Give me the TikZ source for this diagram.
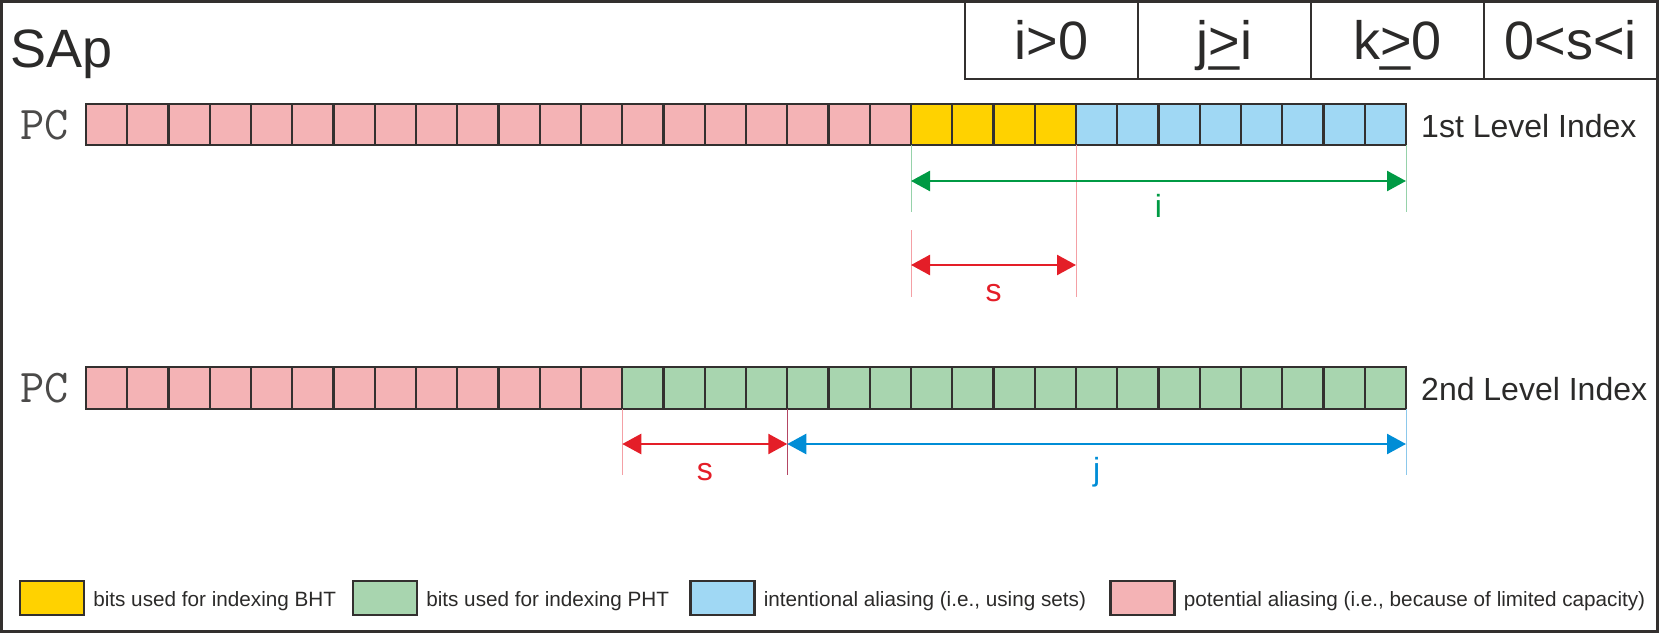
\documentclass[tikz,border=0pt]{standalone}
\usepackage{fontspec}
\setmainfont{Liberation Sans}
\usetikzlibrary{arrows.meta,positioning,calc}

\definecolor{pinkbit}{RGB}{244,179,181}
\definecolor{yellowbit}{RGB}{255,210,0}
\definecolor{bluebit}{RGB}{160,216,244}
\definecolor{greenbit}{RGB}{168,213,175}
\definecolor{linecol}{RGB}{51,48,47}
\definecolor{textcol}{RGB}{43,42,41}
\definecolor{dimgreen}{RGB}{0,154,68}
\definecolor{dimred}{RGB}{228,30,40}
\definecolor{dimblue}{RGB}{0,141,214}
\definecolor{extgreen}{RGB}{150,210,170}
\definecolor{extred}{RGB}{244,160,165}
\definecolor{extdark}{RGB}{180,70,100}
\definecolor{extblue}{RGB}{140,200,235}

\begin{document}
\begin{tikzpicture}[
    x=1pt, y=-1pt,
    bit/.style={draw=linecol, line width=2.2pt, minimum width=41.25pt,
        minimum height=41.5pt, inner sep=0pt, outer sep=0pt},
    hdr/.style={draw=linecol, line width=2pt, minimum width=173pt,
        minimum height=78pt, inner sep=0pt, text height=39pt, text depth=0pt,
        font=\fontsize{54}{60}\selectfont, text=textcol},
    legbox/.style={draw=linecol, line width=2.2pt, minimum width=64pt,
        minimum height=34pt, inner sep=0pt},
    legtxt/.style={font=\fontsize{20.7}{24}\selectfont, text=textcol,
        inner sep=0pt, anchor=base west},
    lvl/.style={font=\fontsize{32}{36}\selectfont, text=textcol,
        inner sep=0pt, anchor=base west},
    pc/.style={font=\ttfamily\fontsize{47}{52}\selectfont, text=textcol!85,
        inner sep=0pt, anchor=base west},
    dim/.style={{Triangle[length=19pt,width=20pt]}-{Triangle[length=19pt,width=20pt]},
        line width=2.5pt},
    ext/.style={line width=1pt},
    dimlbl/.style={font=\fontsize{32}{36}\selectfont, inner sep=0pt,
        anchor=base, yshift=-36pt}
]
    \useasboundingbox (0,0) rectangle (1660,634);
    \draw[linecol, line width=2.5pt] (1.5,1.5) rectangle (1657.5,631.5);

    % header
    \node[anchor=base west, inner sep=0pt, font=\fontsize{54}{60}\selectfont,
        text=textcol] (title) at (10,67) {SAp};
    \node[hdr] (h1) at (1051.5,40) {i>0};
    \node[hdr] (h2) at (1224.5,40) {j\ooalign{>\cr\hidewidth\_\hidewidth\cr}i};
    \node[hdr] (h3) at (1397.5,40) {k\ooalign{>\cr\hidewidth\_\hidewidth\cr}0};
    \node[hdr] (h4) at (1570.5,40) {0<s<i};

    % 1st level index
    \node[pc] (pc1) at (20,139) {PC};
    \foreach \n in {0,...,19}
        \node[bit, fill=pinkbit] (a\n) at ({106.625+41.25*\n},124.5) {};
    \foreach \n in {20,...,23}
        \node[bit, fill=yellowbit] (a\n) at ({106.625+41.25*\n},124.5) {};
    \foreach \n in {24,...,31}
        \node[bit, fill=bluebit] (a\n) at ({106.625+41.25*\n},124.5) {};
    \node[lvl] (lvl1) at (1421,137) {1st Level Index};

    \draw[ext, extgreen] (a20.south west) -- (a20.south west |- 0,212);
    \draw[ext, extgreen] (a31.south east) -- (a31.south east |- 0,212);
    \draw[ext, extred] (a20.south west |- 0,230) -- (a20.south west |- 0,297);
    \draw[ext, extred] (a23.south east) -- (a23.south east |- 0,297);
    \draw[dim, dimgreen] (a20.south west |- 0,181) --
        node[dimlbl] (ilbl) {i} (a31.south east |- 0,181);
    \draw[dim, dimred] (a20.south west |- 0,265) --
        node[dimlbl] (slbl1) {s} (a23.south east |- 0,265);

    % 2nd level index
    \node[pc] (pc2) at (20,402.5) {PC};
    \foreach \n in {0,...,12}
        \node[bit, fill=pinkbit] (b\n) at ({106.625+41.25*\n},388) {};
    \foreach \n in {13,...,31}
        \node[bit, fill=greenbit] (b\n) at ({106.625+41.25*\n},388) {};
    \node[lvl] (lvl2) at (1421,400) {2nd Level Index};

    \draw[ext, extred] (b13.south west) -- (b13.south west |- 0,475);
    \draw[ext, extdark] (b16.south east) -- (b16.south east |- 0,475);
    \draw[ext, extblue] (b31.south east) -- (b31.south east |- 0,475);
    \draw[dim, dimred] (b13.south west |- 0,444) --
        node[dimlbl] (slbl2) {s} (b16.south east |- 0,444);
    \draw[dim, dimblue] (b16.south east |- 0,444) --
        node[dimlbl] (jlbl) {j} (b31.south east |- 0,444);

    % legend
    \node[legbox, fill=yellowbit] (ly) at (52,598) {};
    \node[legtxt] (lyt) at ($(ly.east)+(8,8)$) {bits used for indexing BHT};
    \node[legbox, fill=greenbit] (lg) at (385,598) {};
    \node[legtxt] (lgt) at ($(lg.east)+(8,8)$) {bits used for indexing PHT};
    \node[legbox, fill=bluebit] (lb) at (722.5,598) {};
    \node[legtxt] (lbt) at ($(lb.east)+(8,8)$) {intentional aliasing (i.e., using sets)};
    \node[legbox, fill=pinkbit] (lp) at (1142.5,598) {};
    \node[legtxt] (lpt) at ($(lp.east)+(8,8)$) {potential aliasing (i.e., because of limited capacity)};
\end{tikzpicture}
\end{document}
